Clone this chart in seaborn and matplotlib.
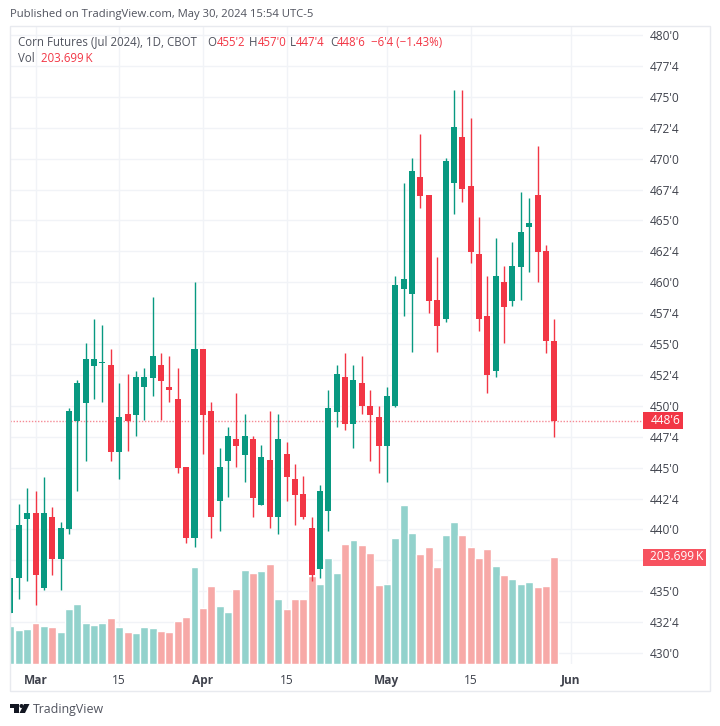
import numpy as np
import pandas as pd
import matplotlib.pyplot as plt
from matplotlib.patches import Rectangle, Polygon, Circle
import seaborn as sns

sns.set_style("white")
plt.rcParams['font.family'] = ['Open Sans', 'DejaVu Sans']

# daily bars, Feb 28 - May 30 2024
opens = [433.26, 436.07, 440.82, 441.33, 435.26, 441.03, 437.60, 440.03, 448.79, 450.25, 453.22,
         453.46, 453.30, 446.28, 449.33, 449.25, 451.52, 452.27, 453.30, 451.54, 450.55, 445.05,
         439.30, 454.59, 449.58, 442.30, 445.51, 447.29, 446.02, 447.29, 442.00, 445.59, 441.00,
         446.07, 444.08, 442.86, 440.11, 436.82, 441.51, 449.52, 452.33, 448.53, 451.84, 450.01,
         449.09, 446.77, 449.98, 459.47, 459.04, 468.51, 467.05, 458.56, 457.02, 468.02, 471.75,
         467.78, 462.28, 457.29, 452.81, 460.01, 458.50, 461.25, 464.49, 467.05, 462.52, 455.25]
highs = [436.07, 442.05, 443.35, 443.11, 444.26, 441.81, 440.60, 449.82, 452.09, 455.08, 457.02,
         456.54, 454.59, 451.84, 452.57, 452.81, 453.06, 458.80, 454.30, 454.03, 453.06, 445.05,
         460.01, 454.59, 450.31, 446.58, 448.28, 451.03, 449.33, 447.55, 446.83, 449.58, 449.33,
         447.07, 445.29, 444.32, 441.03, 443.59, 451.28, 453.30, 454.30, 453.30, 454.03, 451.28,
         450.01, 451.54, 460.52, 468.05, 470.05, 471.99, 467.05, 462.06, 470.05, 475.55, 475.55,
         473.31, 465.27, 460.52, 463.57, 461.31, 463.25, 467.30, 466.81, 471.04, 463.01, 457.00]
lows = [433.23, 434.37, 435.85, 433.88, 435.10, 436.31, 435.10, 439.63, 443.11, 445.56, 450.55,
        450.31, 445.56, 444.08, 446.34, 447.55, 448.85, 450.82, 448.85, 450.31, 444.59, 438.90,
        438.60, 446.10, 439.33, 439.87, 442.62, 445.07, 443.86, 441.03, 441.97, 440.11, 439.63,
        442.32, 440.35, 440.86, 435.85, 436.09, 439.87, 448.31, 448.04, 446.61, 449.33, 445.56,
        444.56, 443.86, 449.90, 457.29, 454.35, 466.03, 457.53, 454.35, 456.80, 465.52, 466.51,
        461.58, 456.07, 451.06, 452.35, 455.08, 458.07, 458.56, 460.82, 460.01, 454.30, 447.50]
closes = [436.07, 440.35, 441.30, 436.31, 441.33, 437.60, 440.11, 449.58, 451.82, 453.78, 453.78,
          453.54, 446.28, 449.09, 448.79, 452.33, 452.33, 454.03, 452.03, 451.28, 444.99, 439.30,
          454.59, 449.25, 441.00, 445.05, 447.55, 446.77, 447.55, 442.54, 445.83, 441.00, 447.31,
          444.26, 442.78, 441.00, 436.31, 443.11, 449.82, 452.57, 448.53, 452.09, 449.98, 449.25,
          446.77, 450.79, 459.77, 460.26, 469.00, 467.00, 458.50, 456.45, 469.80, 472.55, 467.54,
          462.47, 457.00, 452.51, 460.52, 458.02, 461.31, 464.06, 464.81, 462.47, 455.27, 448.75]
# thousands of contracts
volumes = [71.7, 64.1, 66.0, 77.4, 71.7, 70.5, 61.6, 104.7, 113.6, 77.4, 73.6,
           77.4, 88.2, 70.5, 61.6, 59.7, 70.5, 69.2, 62.8, 61.6, 82.5, 90.1,
           184.1, 106.0, 147.9, 110.4, 99.0, 142.2, 178.4, 173.9, 176.4, 189.8, 123.1,
           104.7, 124.4, 123.1, 168.2, 153.0, 201.8, 173.9, 229.1, 235.5, 226.0, 211.4,
           149.8, 153.0, 239.9, 302.7, 248.8, 208.8, 222.1, 184.1, 246.3, 269.7, 246.3,
           223.4, 201.2, 219.0, 186.0, 169.5, 161.8, 153.0, 155.5, 146.6, 147.9, 203.699]

price_ticks = [430, 432.5, 435, 437.5, 440, 442.5, 445, 447.5, 450, 452.5, 455, 457.5, 460,
               462.5, 465, 467.5, 470, 472.5, 475, 477.5, 480]
# 437'4 sits behind the volume flag
price_labels = ["430'0", "432'4", "435'0", "", "440'0", "442'4", "445'0", "447'4", "450'0",
                "452'4", "455'0", "457'4", "460'0", "462'4", "465'0", "467'4", "470'0", "472'4",
                "475'0", "477'4", "480'0"]
date_ticks = [3, 13, 23, 33, 45, 55, 67]
date_labels = ['Mar', '15', 'Apr', '15', 'May', '15', 'Jun']

UP = '#089981'
DOWN = '#F23645'
GRID = '#F1F3F7'
TXT = '#50535E'
W, H = 720, 726

df = pd.DataFrame({'bar': np.arange(len(opens)), 'open': opens, 'high': highs, 'low': lows,
                   'close': closes, 'vol': volumes})
df['dir'] = np.where(df['close'] >= df['open'], 'up', 'down')


def fx(x):
    return x / W


def fy(y):
    return 1 - y / H


fig = plt.figure(figsize=(7.2, 7.26), dpi=100, facecolor='white')
rect = [fx(10), fy(664), fx(633), 638 / H]

# grid and labels at the bottom, then volume, then candles
ax = fig.add_axes(rect)
ax.set_xlim(-0.05, 75.6)
ax.set_ylim(429.11, 480.73)
for s in ax.spines.values():
    s.set_visible(False)

ax_vol = ax.twinx()
sns.barplot(data=df, x='bar', y='vol', hue='dir', native_scale=True, dodge=False, width=0.95,
            palette={'up': '#92D2CC', 'down': '#F7A9A7'}, legend=False, saturation=1, ax=ax_vol)
ax_vol.set_ylim(0, 1214.8)
ax_vol.set_yticks([])
ax_vol.set_xlabel('')
ax_vol.set_ylabel('')
ax_vol.patch.set_visible(False)
for s in ax_vol.spines.values():
    s.set_visible(False)

ax_top = ax.twinx()
ax_top.set_ylim(429.11, 480.73)
ax_top.set_yticks([])
ax_top.patch.set_visible(False)
for s in ax_top.spines.values():
    s.set_visible(False)

ax_top.axhline(closes[-1], color='#F58A95', lw=1, ls=(0, (1, 1.2)), zorder=1)
colors = [UP if d == 'up' else DOWN for d in df['dir']]
ax_top.vlines(df['bar'], df['low'], df['high'], colors=colors, lw=1.0, zorder=2)
body_low = df[['open', 'close']].min(axis=1)
body_h = (df['open'] - df['close']).abs()
ax_top.bar(df['bar'], body_h, bottom=body_low, width=0.72, color=colors, lw=0, zorder=3)

# ticks go on last, the twins reset them
ax.set_xlim(-0.05, 75.6)
ax.set_yticks(price_ticks)
ax.set_yticklabels(price_labels)
ax.set_xticks(date_ticks)
ax.set_xticklabels(date_labels)
ax.yaxis.tick_right()
ax.tick_params(axis='y', length=0, pad=5, labelsize=8.6, labelcolor='#3F424C')
ax.tick_params(axis='x', length=0, pad=7, labelsize=8.6, labelcolor='#3F424C')
for lab, txt in zip(ax.get_xticklabels(), date_labels):
    if txt != '15':
        lab.set_fontweight('bold')
ax.grid(True, color=GRID, lw=1)

# price flags on the scale
fig.add_artist(Rectangle((fx(643), fy(429)), fx(40), 17 / H, color=DOWN, lw=0))
fig.text(fx(651), fy(421), "448'6", color='white', fontsize=8.6, va='center')
fig.add_artist(Rectangle((fx(643), fy(565.5)), fx(63), 17 / H, color='#F7525F', lw=0))
fig.text(fx(650.5), fy(557), '203.699\u2009K', color='white', fontsize=8.6, va='center')

# frame
fig.add_artist(Rectangle((fx(10), fy(691)), fx(700), 665 / H, fill=False, ec='#E8EAEF', lw=1))

# header
fig.text(fx(10), fy(15), 'Published on TradingView.com, May 30, 2024 15:54 UTC-5', color=TXT,
         fontsize=8.1, va='center')
fig.text(fx(18), fy(42), 'Corn Futures (Jul 2024), 1D, CBOT', color=TXT, fontsize=8.3, va='center')
fig.text(fx(18), fy(59), 'Vol', color=TXT, fontsize=8.3, va='center')
legend_parts = [(207, 'O', TXT), (216.5, "455'2", DOWN), (249, 'H', TXT), (258, "457'0", DOWN),
                (290, 'L', TXT), (296, "447'4", DOWN), (330, 'C', TXT), (337, "448'6", DOWN),
                (371, '\u22126\'4 (\u22121.43%)', DOWN), (41, '203.699\u2009K', DOWN)]
for xp, txt, col in legend_parts:
    yp = 59 if txt.startswith('203') else 42
    fig.text(fx(xp), fy(yp), txt, color=col, fontsize=8.3, va='center')

# footer logo
logo = '#131722'
fig.add_artist(Polygon([(fx(10), fy(704)), (fx(19), fy(704)), (fx(19), fy(713)), (fx(14), fy(713)),
                        (fx(14), fy(708)), (fx(10), fy(708))], color=logo, lw=0))
fig.add_artist(Circle((fx(21.5), fy(706)), 2 / W, color=logo, lw=0))
fig.add_artist(Polygon([(fx(24), fy(704)), (fx(29.5), fy(704)), (fx(25), fy(713)), (fx(19.5), fy(713))],
                       color=logo, lw=0))
fig.text(fx(33), fy(709), 'TradingView', color=TXT, fontsize=8.9, va='center')

fig.savefig('out.png', dpi=100)
